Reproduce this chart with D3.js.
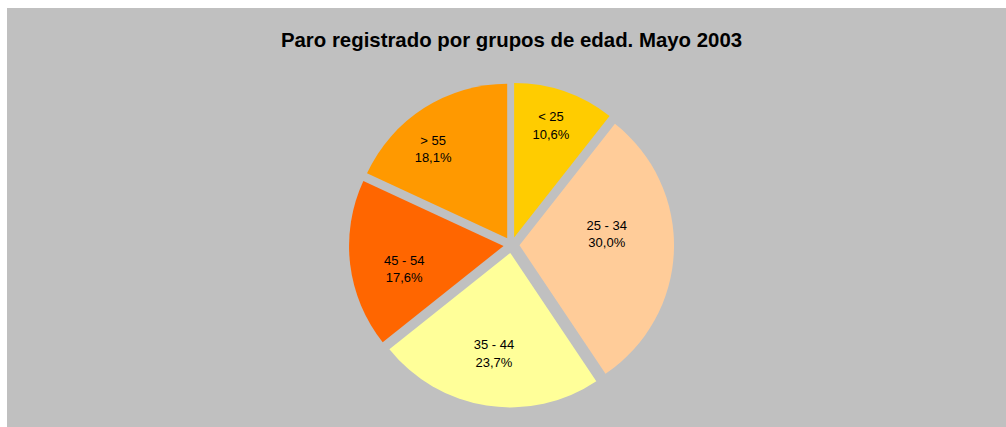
<!DOCTYPE html>
<html>
<head>
<meta charset="utf-8">
<script src="https://cdn.jsdelivr.net/npm/d3@7"></script>
<style>
  html, body { margin: 0; padding: 0; background: #ffffff; }
  svg { display: block; }
  text { font-family: "Liberation Sans", Arial, sans-serif; fill: #000; }
</style>
</head>
<body>
<svg id="chart" width="1006" height="427"></svg>
<script>
// ---- Data ----
const title = "Paro registrado por grupos de edad. Mayo 2003";
const categories = ["< 25", "25 - 34", "35 - 44", "45 - 54", "> 55"];
const values = [10.6, 30.0, 23.7, 17.6, 18.1];
const colors = ["#FFCC00", "#FFCC99", "#FFFF99", "#FF6600", "#FF9900"];

// ---- Layout ----
const W = 1006, H = 427;
const cx = 511.5, cy = 245, R = 154.5, explode = 8;
// label placement relative to each exploded slice center: [angle deg clockwise from 12 o'clock, distance px]
const labelPolar = [[18.2, 118], [82.6, 88], [189.2, 102], [257, 102], [320.3, 116]];

const svg = d3.select("#chart");
svg.append("rect").attr("x", 7).attr("y", 8).attr("width", W - 7).attr("height", H - 8).attr("fill", "#C0C0C0");

svg.append("text")
  .attr("x", 511.5).attr("y", 47.3)
  .attr("text-anchor", "middle")
  .attr("font-size", "20.4px").attr("font-weight", "bold")
  .text(title);

const pie = d3.pie().sort(null).value(d => d)(values);
const arc = d3.arc().innerRadius(0).outerRadius(R);

const g = svg.append("g").attr("transform", `translate(${cx},${cy})`);

const slices = g.selectAll("g.slice").data(pie).enter().append("g")
  .attr("class", "slice")
  .attr("transform", d => {
    const a = (d.startAngle + d.endAngle) / 2;
    return `translate(${explode * Math.sin(a)},${-explode * Math.cos(a)})`;
  });

slices.append("path")
  .attr("d", arc)
  .attr("fill", (d, i) => colors[i]);

const lbl = slices.append("text")
  .attr("text-anchor", "middle")
  .attr("font-size", "13px")
  .attr("transform", (d, i) => {
    const [deg, r] = labelPolar[i];
    const a = deg * Math.PI / 180;
    return `translate(${r * Math.sin(a)},${-r * Math.cos(a)})`;
  });
lbl.append("tspan").attr("x", 0).attr("y", -4.3).text((d, i) => categories[i]);
lbl.append("tspan").attr("x", 0).attr("y", 13.4)
  .text(d => d3.format(".1f")(d.data).replace(".", ",") + "%");
</script>
</body>
</html>
